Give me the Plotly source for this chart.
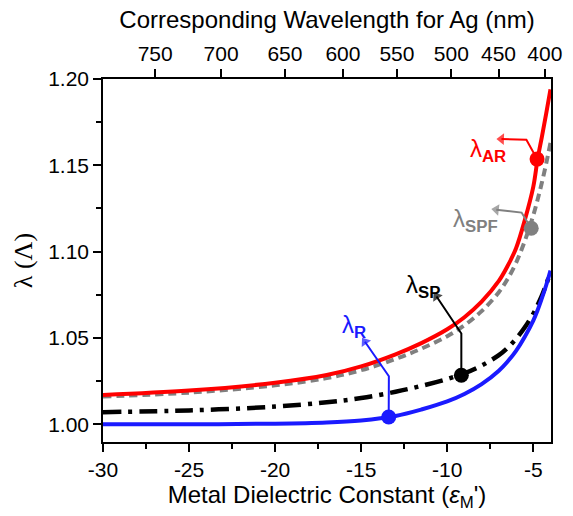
import plotly.graph_objects as go

# ---------------- data ----------------
eps = [-30, -25, -20, -17, -15, -13, -11.5, -10, -9, -8, -7, -6.5, -6, -5.5, -5, -4.75, -4.5, -4.25, -4.0]
lam_AR = [1.0170, 1.0195, 1.0240, 1.0285, 1.0335, 1.0405, 1.0470, 1.0550, 1.0620, 1.0710, 1.0830,
          1.0915, 1.1020, 1.1180, 1.1375, 1.1535, 1.1665, 1.1800, 1.1940]
lam_SPF = [1.0160, 1.0183, 1.0225, 1.0267, 1.0313, 1.0378, 1.0438, 1.0510, 1.0573, 1.0655, 1.0765,
           1.0840, 1.0935, 1.1060, 1.1210, 1.1300, 1.1400, 1.1510, 1.1630]
lam_SP = [1.0070, 1.0080, 1.0102, 1.0127, 1.0152, 1.0188, 1.0222, 1.0262, 1.0295, 1.0340, 1.0400,
          1.0442, 1.0495, 1.0560, 1.0640, 1.0690, 1.0745, 1.0810, 1.0880]
lam_R = [1.0000, 1.0000, 1.0003, 1.0010, 1.0022, 1.0048, 1.0085, 1.0132, 1.0175, 1.0232, 1.0310,
         1.0362, 1.0425, 1.0505, 1.0600, 1.0660, 1.0730, 1.0805, 1.0890]

# marked points (eps, lambda)
pt_AR = (-4.78, 1.1536)
pt_SPF = (-5.12, 1.1135)
pt_SP = (-9.18, 1.0284)
pt_R = (-13.4, 1.0042)

x_ticks = [-30, -25, -20, -15, -10, -5]
x_ticklabels = ["-30", "-25", "-20", "-15", "-10", "-5"]
y_ticks = [1.00, 1.05, 1.10, 1.15, 1.20]

# top axis: wavelength (nm) at corresponding eps
wl_labels = ["750", "700", "650", "600", "550", "500", "450", "400"]
wl_eps = [-26.97, -23.14, -19.43, -16.06, -12.92, -9.76, -7.02, -4.33]

# ---------------- styling / layout constants ----------------
FONT = "Arial, 'Liberation Sans', sans-serif"
SERIF = "'Liberation Serif', 'DejaVu Serif', serif"
RED, GRAY, BLACK, BLUE = "#ff0000", "#808080", "#000000", "#1a1aff"
XR = [-30, -3.97]
YR = [0.9897, 1.2]

fig = go.Figure()

fig.add_trace(go.Scatter(x=eps, y=lam_SPF, mode="lines", line_shape="spline",
                         line=dict(color=GRAY, width=4, dash="8px,5px"), showlegend=False))
fig.add_trace(go.Scatter(x=eps, y=lam_AR, mode="lines", line_shape="spline",
                         line=dict(color=RED, width=4), showlegend=False))
fig.add_trace(go.Scatter(x=eps, y=lam_SP, mode="lines", line_shape="spline",
                         line=dict(color=BLACK, width=4.5, dash="18px,7px,4px,7px"), showlegend=False))
fig.add_trace(go.Scatter(x=eps, y=lam_R, mode="lines", line_shape="spline",
                         line=dict(color=BLUE, width=4), showlegend=False))


def lab_text(sub):
    return f"<span style='font-family:{SERIF}'>λ</span><sub><b>{sub}</b></sub>"


# callouts: (point, bend, tip, label position, color, subscript)
callouts = [
    (pt_AR, (-5.40, 1.1648), (-6.85, 1.1652), (-6.45, 1.1585), RED, "AR"),
    (pt_SPF, (-5.68, 1.1226), (-7.15, 1.1243), (-6.95, 1.1180), GRAY, "SPF"),
    (pt_SP, (-9.18, 1.0526), (-10.62, 1.0740), (-10.30, 1.0800), BLACK, "SP"),
    (pt_R, (-13.39, 1.0278), (-14.78, 1.0478), (-14.60, 1.0568), BLUE, "R"),
]

for pt, bend, tip, lab, col, sub in callouts:
    fig.add_trace(go.Scatter(x=[pt[0], bend[0], tip[0]], y=[pt[1], bend[1], tip[1]],
                             mode="lines+markers",
                             line=dict(color=col, width=2),
                             marker=dict(symbol="triangle-up", size=[0, 0, 10], angleref="previous",
                                         color=col, line=dict(width=0)),
                             showlegend=False))
    fig.add_trace(go.Scatter(x=[pt[0]], y=[pt[1]], mode="markers",
                             marker=dict(color=col, size=15), showlegend=False))
    fig.add_annotation(x=lab[0], y=lab[1], xref="x", yref="y", text=lab_text(sub), showarrow=False,
                       xanchor="right", yanchor="middle",
                       font=dict(family=FONT, size=24, color=col))

# invisible trace for top axis
fig.add_trace(go.Scatter(x=XR, y=[None, None], xaxis="x2", mode="lines", showlegend=False,
                         hoverinfo="skip"))

axis_common = dict(showline=True, linecolor="black", linewidth=1.5, ticks="outside",
                   tickcolor="black", tickwidth=1.5, ticklen=8, showgrid=False, zeroline=False,
                   tickfont=dict(family=FONT, size=21, color="black"))

fig.update_layout(
    width=573, height=516,
    margin=dict(l=103, r=11, t=79, b=74),
    plot_bgcolor="white", paper_bgcolor="white",
    xaxis=dict(range=XR, tickvals=x_ticks, ticktext=x_ticklabels, mirror=True,
               minor=dict(dtick=2.5, tick0=-30, ticklen=5, ticks="outside", tickcolor="black", tickwidth=1.5),
               title=dict(text="Metal Dielectric Constant (<i>ε</i><sub>M</sub>')",
                          font=dict(family=FONT, size=24, color="black"), standoff=6),
               **axis_common),
    xaxis2=dict(range=XR, overlaying="x", side="top", tickvals=wl_eps, ticktext=wl_labels,
                title=dict(text="Corresponding Wavelength for Ag (nm)",
                           font=dict(family=FONT, size=24, color="black"), standoff=6),
                **axis_common),
    yaxis=dict(range=YR, tickvals=y_ticks, tickformat=".2f", mirror=True,
               minor=dict(dtick=0.025, tick0=1.0, ticklen=5, ticks="outside", tickcolor="black", tickwidth=1.5),
               title=dict(text="λ (Λ)", font=dict(family=SERIF, size=26, color="black"),
                          standoff=8),
               **axis_common),
)

fig.write_html("out.html")
